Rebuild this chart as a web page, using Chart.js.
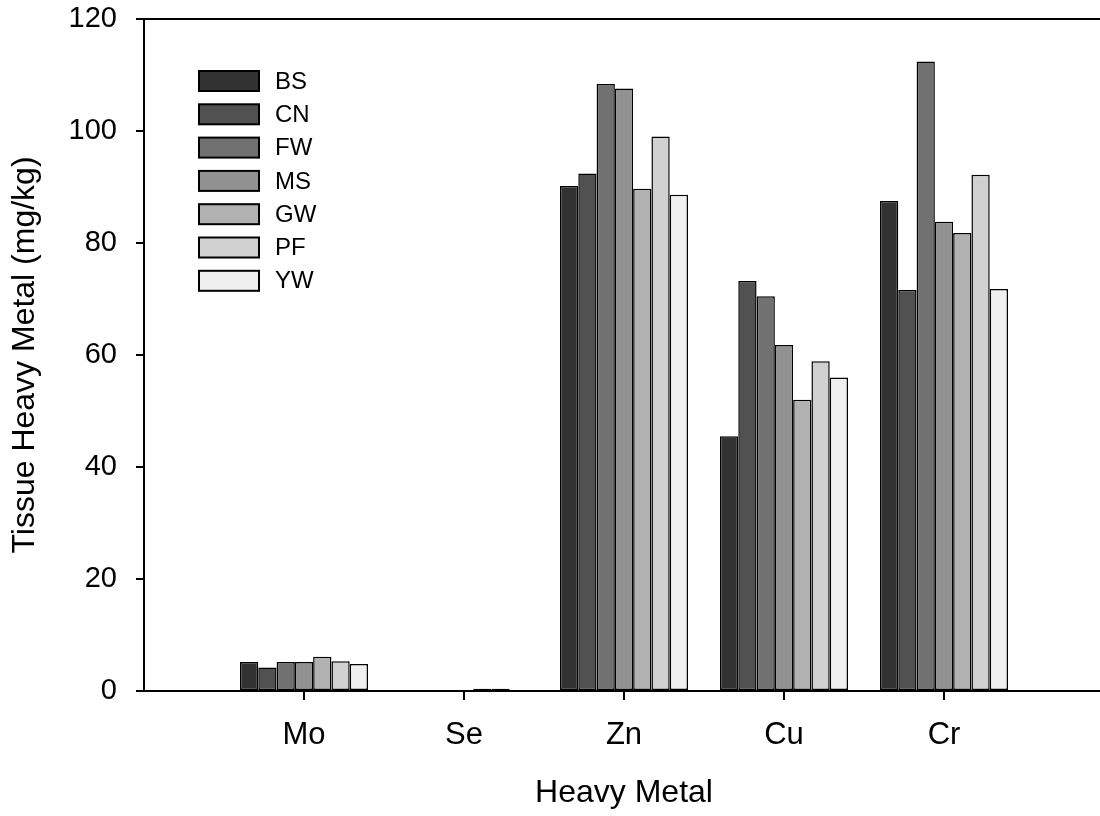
<!DOCTYPE html>
<html>
<head>
<meta charset="utf-8">
<script src="https://cdn.jsdelivr.net/npm/chart.js@4"></script>
<style>
html, body { margin: 0; padding: 0; background: #fff; overflow: hidden; }
#wrap { width: 1104px; height: 816px; }
</style>
</head>
<body>
<div id="wrap"><canvas id="myChart" width="1104" height="816"></canvas></div>
<script>
'use strict';
// empty slots at both ends give the extra room left and right of the groups
var metals = ['', 'Mo', 'Se', 'Zn', 'Cu', 'Cr', ''];
var sites = ['BS', 'CN', 'FW', 'MS', 'GW', 'PF', 'YW'];
var fills = ['#323232', '#515151', '#717171', '#919191', '#b1b1b1', '#d1d1d1', '#efefef'];

var bs = [null, 5.2, 0, 90.2, 45.5, 87.5, null];
var cn = [null, 4.2, 0, 92.4, 73.2, 71.6, null];
var fw = [null, 5.2, 0, 108.4, 70.5, 112.4, null];
var ms = [null, 5.2, 0, 107.6, 61.8, 83.8, null];
var gw = [null, 6.1, 0.4, 89.7, 52.0, 81.8, null];
var pf = [null, 5.3, 0.4, 99.0, 58.9, 92.2, null];
var yw = [null, 4.8, 0, 88.6, 56.0, 71.8, null];
var series = [bs, cn, fw, ms, gw, pf, yw];

var yMin = 0, yMax = 120, yStep = 20;
var fontFamily = '"Liberation Sans", Arial, sans-serif';

var datasets = sites.map(function (name, i) {
    return {
        label: name,
        data: series[i],
        backgroundColor: fills[i],
        borderColor: '#000',
        borderWidth: 1.5,
        borderSkipped: false
    };
});

// top frame line, x tick marks, legend inside the plot
var extras = {
    id: 'extras',
    afterDraw: function (chart) {
        var ctx = chart.ctx;
        var area = chart.chartArea;
        var xs = chart.scales.x;
        ctx.save();
        ctx.strokeStyle = '#000';
        ctx.lineWidth = 2;
        ctx.beginPath();
        ctx.moveTo(area.left - 1, area.top);
        ctx.lineTo(area.right, area.top);
        for (var i = 1; i < metals.length - 1; i++) {
            var px = Math.round(xs.getPixelForValue(i));
            ctx.moveTo(px, area.bottom);
            ctx.lineTo(px, area.bottom + 9);
        }
        ctx.stroke();

        ctx.font = '24px ' + fontFamily;
        ctx.textBaseline = 'middle';
        ctx.textAlign = 'left';
        sites.forEach(function (name, i) {
            var top = 71 + i * 33.3;
            ctx.fillStyle = fills[i];
            ctx.fillRect(199, top, 60, 20);
            ctx.lineWidth = 2;
            ctx.strokeStyle = '#000';
            ctx.strokeRect(199, top, 60, 20);
            ctx.fillStyle = '#000';
            ctx.fillText(name, 275, top + 11);
        });
        ctx.restore();
    }
};

var ctx = document.getElementById('myChart').getContext('2d');
var myChart = new Chart(ctx, {
    type: 'bar',
    data: { labels: metals, datasets: datasets },
    plugins: [extras],
    options: {
        responsive: false,
        animation: false,
        devicePixelRatio: 1,
        layout: { padding: { top: 19, left: 0, right: 0, bottom: 0 } },
        plugins: { legend: { display: false }, tooltip: { enabled: false } },
        datasets: { bar: { categoryPercentage: 0.8, barPercentage: 1.0 } },
        scales: {
            x: {
                offset: false,
                afterFit: function (scale) {
                    scale.height = 125;
                    scale.paddingLeft = 0;
                    scale.paddingRight = 0;
                },
                border: { display: true, color: '#000', width: 2 },
                grid: { display: false },
                ticks: { color: '#000', padding: 18, maxRotation: 0, autoSkip: false, font: { family: fontFamily, size: 31 } },
                title: { display: true, text: 'Heavy Metal', color: '#000', padding: { top: 0, bottom: 4 }, font: { family: fontFamily, size: 32 } }
            },
            y: {
                min: yMin,
                max: yMax,
                afterFit: function (scale) {
                    scale.width = 144;
                    scale.paddingTop = 0;
                    scale.paddingBottom = 0;
                },
                border: { display: true, color: '#000', width: 2 },
                grid: { display: true, drawOnChartArea: false, drawTicks: true, tickLength: 8, color: '#000', lineWidth: 2 },
                ticks: { stepSize: yStep, color: '#000', padding: 19, font: { family: fontFamily, size: 29 } },
                title: { display: true, text: 'Tissue Heavy Metal (mg/kg)', color: '#000', padding: { top: 6, bottom: 0 }, font: { family: fontFamily, size: 32 } }
            }
        }
    }
});
</script>
</body>
</html>
